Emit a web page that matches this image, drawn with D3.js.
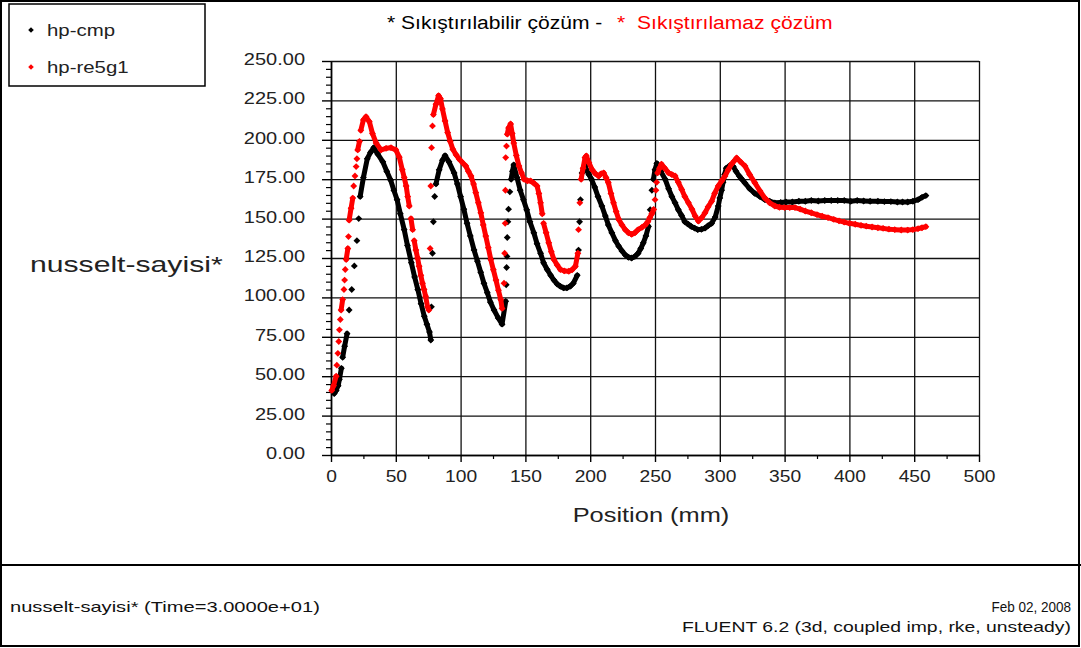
<!DOCTYPE html>
<html>
<head>
<meta charset="utf-8">
<style>
  body { margin: 0; background: #fff; }
  svg { display: block; }
  text { font-family: "Liberation Sans", Arial, sans-serif; }
</style>
</head>
<body>
<div id="chart"></div>
<script src="https://cdn.jsdelivr.net/npm/d3@7"></script>
<script>
// values
const xTicks = [0, 50, 100, 150, 200, 250, 300, 350, 400, 450, 500];
const yTicks = [0, 25, 50, 75, 100, 125, 150, 175, 200, 225, 250];

const seriesNames = ["hp-cmp", "hp-re5g1"];

const cmpX = [2.5, 4, 5.5, 6.5, 8, 9, 10.5, 12.4, 14, 16, 18, 20, 21.4, 22.5, 25, 28, 30.5, 33, 36, 40, 43, 46, 48.5, 51, 53.5, 56.5, 59, 62, 64.5, 67, 69.5, 72, 74, 76, 77,
  77.5, 78.3, 79, 80, 81, 83.5, 86, 88, 91, 95, 97.5, 100, 102.5, 105, 107.5, 110.4, 113, 115.5, 118, 120.6, 123, 125.8, 129, 132,
  134.8, 135.2, 135.5, 135.8, 136, 136.5, 137, 138, 139, 140, 141, 143.5, 146, 148.5, 151, 153.5, 156.5, 159, 161.7, 164, 166.8, 169.5, 172, 174.5, 177, 179.5, 182, 184.5, 187, 190,
  191, 191.8, 192.5, 193.7, 196, 197, 199, 201, 203.5, 206, 209, 211.7, 214, 216.7, 219.5, 222, 224.5, 227, 229.5, 232, 234.5, 237, 239, 241, 243, 245, 246.3, 247.6, 248.8, 250, 251.4,
  254.5, 257.8, 260.5, 263, 265.5, 268, 270.5, 273, 275.5, 278, 280.5, 283, 285.8, 288.6, 291, 293.7, 296.5, 298.8, 300, 301.4, 302.5, 303.7, 305, 307.5, 310.4,
  312.5, 315, 317, 319.4, 323, 327, 331, 334.8, 338.5, 342.5, 347, 351, 356, 361, 366, 370.6, 376, 381, 386, 391, 396, 401, 406, 411, 416, 422, 427, 432, 437, 441, 445, 449, 453, 456, 459];
const cmpY = [39, 41, 44, 48, 55, 62, 69, 77, 92, 105, 120, 136, 150, 164, 176, 188, 192, 195, 191, 186, 180, 174.5, 168, 162, 153, 143, 133, 122, 113, 105, 96, 88, 83, 78, 73,
  94, 128, 148, 164, 172, 181, 187, 190, 186, 179, 172, 164, 156, 147, 139, 130, 123, 116, 109, 103, 97, 92, 87, 83,
  97.5, 108, 119, 126, 138, 148, 156, 167, 175, 180, 184, 176, 168, 162, 155.6, 148, 141, 134, 128, 122, 117.7, 114, 111, 108.5, 107, 106, 106, 107, 109, 114,
  130, 148, 162, 179, 184, 181, 178, 175, 170, 164, 158, 151.6, 146, 141, 136, 132.5, 129.5, 127, 125.5, 125, 126, 128, 131, 134.6, 139, 145, 155.6, 168, 175, 181, 185,
  180, 175, 169, 164, 160, 155.6, 152, 148, 146.5, 145, 144, 143, 143.2, 144, 145.5, 147, 151, 158, 163, 168, 173, 178, 182, 183.5, 183,
  180, 177, 175, 172.6, 169, 166, 164, 162, 161, 160, 160.2, 160.5, 160.5, 161, 161, 161.5, 161.2, 161.5, 161.5, 161.5, 161.5, 161, 161.5, 161.2, 161, 161, 160.8, 160.8, 160.5, 160.5, 160.5, 161, 162, 163.5, 164.6];

const reX = [0.6, 2, 4, 4.5, 5.3, 6, 6.5, 7.2, 7.8, 9, 10, 10.5, 11, 11.7, 13, 13.5, 14, 15.5, 16.8, 17.5, 18.5, 19.4, 20, 20.6, 22, 23, 25, 27, 29.6, 32, 34.8, 38.6, 42.5, 46.3, 50, 52.7, 55, 56.5, 58, 59.2, 60.4, 61.7, 63, 64.2, 65.5, 66.8, 68, 69.3, 70.6, 71.8, 73, 74.5, 75.5,
  76.5, 77, 77.6, 78.3, 79, 81, 83, 84.5, 86, 88, 90, 92, 94, 96.5, 99, 101.5, 104, 106, 108, 110, 111.7, 113.7, 115.6, 117.5, 119.4, 121.4, 123.3, 125.3, 127.3, 129.2, 131, 132,
  133.5, 134, 134.4, 134.6, 134.8, 135.4, 136, 137, 138.6, 139.8, 141, 143, 145, 147, 149, 151.5, 154, 156.5, 159, 160.4, 161.7, 163, 164, 166, 168, 170, 172, 174.5, 177, 180, 183.5, 186, 188.6,
  190.5, 191, 192, 193, 194.5, 196, 197, 199, 201.5, 204, 206.5, 208.5, 210.4, 212.2, 214, 216, 218, 220, 222, 224.5, 227, 229.5, 232, 234.5, 237, 240, 242.5, 244.5, 246, 247.5, 249, 250, 250.7, 251.3, 252, 253.5, 255,
  257.5, 260.5, 263, 265.5, 268, 270.6, 273, 275.8, 278.5, 281, 283.5, 286, 288.6, 291, 293.7, 296, 298.8, 301.5, 304, 306.5, 309, 311, 313, 316, 319.4, 323, 327, 331, 334.8, 338.5, 342.5, 346, 350, 354, 358, 362, 366, 370.6, 375, 379, 383.5, 388, 392, 396, 400, 404.5, 409, 413, 417.5, 422, 426, 430.5, 435, 440, 445, 449, 453, 456, 459];
const reY = [41, 44, 50, 57, 64.5, 72, 79.4, 86, 92, 98.6, 105, 111, 117.7, 124, 131, 138.6, 149, 156.6, 163, 170.7, 177, 183, 188, 193.6, 199, 206, 212.6, 214.6, 211.5, 204, 198, 193.6, 194.6, 195, 193.6, 189, 181, 176, 170.7, 164, 158, 150, 143, 136, 130, 125, 119.8, 114, 109, 105, 100.7, 94, 92,
  131, 170.7, 195, 208.8, 216, 222.6, 228, 226, 219.6, 212, 204.6, 199, 194, 190.5, 187.7, 185.5, 183.4, 180, 177, 172, 166.5, 160, 153.7, 146, 139, 131.5, 124, 117.5, 111, 104.5, 98.6, 93,
  109, 128, 147, 168, 188.7, 196, 203.6, 207.5, 210, 204, 198, 190, 183.4, 179, 175, 174, 173.9, 172.5, 170.7, 166, 160, 153, 147, 141, 134.7, 129, 124, 120.5, 117.7, 116.8, 116.6, 117.5, 119.8,
  128, 143, 160, 175, 182, 188.7, 189.8, 185.5, 181, 178.5, 177, 178.5, 179, 176, 172.8, 166, 160, 154.5, 149.5, 146, 143, 141, 140, 141, 143, 144.5, 146, 148, 150.6, 153, 155.8, 162, 168, 173, 179, 182, 184.5,
  182, 179, 178, 177, 173, 168.5, 164, 160, 156, 151.6, 148.4, 150.5, 153.7, 157.5, 161, 166, 170.7, 174, 177, 181, 184.5, 186.5, 188.5, 186, 183.4, 178, 172.8, 167.5, 163, 160, 158, 157.2, 157, 157, 157, 156, 154.8, 153.7, 152.5, 151.5, 150.6, 149.5, 148.6, 147.8, 147, 146.4, 145.7, 145.2, 144.7, 144.2, 143.8, 143.3, 143, 142.8, 142.7, 143, 143.6, 144.2, 144.9];

const W = 1081, H = 648;
const svg = d3.select('#chart').append('svg').attr('width', W).attr('height', H);

// stretch text horizontally (the original plot is wider than its fonts)
const stretch = (sel, k) => sel.each(function () {
  const w = this.getComputedTextLength();
  this.setAttribute('textLength', w * k);
  this.setAttribute('lengthAdjust', 'spacingAndGlyphs');
});

// frame + footer panel
svg.append('rect').attr('x', 1).attr('y', 1).attr('width', W - 3).attr('height', H - 3)
  .attr('fill', '#fff').attr('stroke', '#000').attr('stroke-width', 2);
svg.append('line').attr('x1', 0).attr('x2', W).attr('y1', 565).attr('y2', 565)
  .attr('stroke', '#000').attr('stroke-width', 2);

const x = d3.scaleLinear().domain([0, 500]).range([331, 979]);
const y = d3.scaleLinear().domain([0, 250]).range([455, 61]);

// grid
svg.append('g').attr('transform', 'translate(0,455)')
  .call(d3.axisBottom(x).tickValues(xTicks).tickSize(-(455 - 61)).tickFormat(''))
  .call(g => g.select('.domain').remove())
  .selectAll('line').attr('stroke', '#111').attr('stroke-width', 1.3);
svg.append('g').attr('transform', 'translate(331,0)')
  .call(d3.axisLeft(y).tickValues(yTicks).tickSize(-(979 - 331)).tickFormat(''))
  .call(g => g.select('.domain').remove())
  .selectAll('line').attr('stroke', '#111').attr('stroke-width', 1.3);

// minor ticks
const yMinor = d3.range(0, 251, 5).filter(v => v % 25 !== 0);
svg.append('g').attr('transform', 'translate(331,0)')
  .call(d3.axisLeft(y).tickValues(yMinor).tickSize(5).tickFormat(''))
  .call(g => g.select('.domain').remove())
  .selectAll('line').attr('stroke', '#000').attr('stroke-width', 1.2);
const xMinor = d3.range(25, 500, 50);
svg.append('g').attr('transform', 'translate(0,455)')
  .call(d3.axisBottom(x).tickValues(xMinor).tickSize(4).tickFormat(''))
  .call(g => g.select('.domain').remove())
  .selectAll('line').attr('stroke', '#000').attr('stroke-width', 1.2);

// major axes
const yAxis = svg.append('g').attr('transform', 'translate(331,0)')
  .call(d3.axisLeft(y).tickValues(yTicks).tickSizeInner(9).tickSizeOuter(0).tickPadding(17).tickFormat(d3.format('.2f')));
const xAxis = svg.append('g').attr('transform', 'translate(0,455)')
  .call(d3.axisBottom(x).tickValues(xTicks).tickSizeInner(7).tickSizeOuter(0).tickPadding(9));
[yAxis, xAxis].forEach(a => {
  a.select('.domain').attr('stroke', '#000').attr('stroke-width', 1.6);
  a.selectAll('line').attr('stroke', '#000').attr('stroke-width', 1.4);
  a.selectAll('text').attr('font-family', '"Liberation Sans", Arial, sans-serif')
    .attr('font-size', 16).attr('fill', '#222');
});
yAxis.selectAll('text').attr('dy', '0.22em');
stretch(yAxis.selectAll('text'), 1.25);
stretch(xAxis.selectAll('text'), 1.2);

// axis titles
stretch(svg.append('text').attr('x', 651).attr('y', 522).attr('text-anchor', 'middle')
  .attr('font-size', 20).attr('fill', '#222').text('Position (mm)'), 1.27);
stretch(svg.append('text').attr('x', 30).attr('y', 272)
  .attr('font-size', 22).attr('fill', '#222').text('nusselt-sayisi*'), 1.37);

// title
stretch(svg.append('text').attr('x', 387).attr('y', 29).attr('font-size', 18).attr('fill', '#000')
  .text('* Sıkıştırılabilir çözüm -'), 1.17);
stretch(svg.append('text').attr('x', 617).attr('y', 29).attr('font-size', 18).attr('fill', '#f00')
  .text('*'), 1.17);
stretch(svg.append('text').attr('x', 637).attr('y', 29).attr('font-size', 18).attr('fill', '#f00')
  .text('Sıkıştırılamaz çözüm'), 1.17);

// data
const series = [
  { name: seriesNames[0], color: '#000', pts: cmpX.map((v, i) => [v, cmpY[i]]) },
  { name: seriesNames[1], color: '#f00', pts: reX.map((v, i) => [v, reY[i]]) }
];
const marker = d3.symbol().type(d3.symbolDiamond2).size(30);

series.forEach(s => {
  const g = svg.append('g');
  // dense marker runs look like a thick band; steep jumps stay dotted
  const segs = d3.pairs(s.pts).filter(([a, b]) => {
    const dx = Math.abs(x(b[0]) - x(a[0])), dy = Math.abs(y(b[1]) - y(a[1]));
    return dy < 7 * dx;
  });
  g.selectAll('line').data(segs).join('line')
    .attr('x1', d => x(d[0][0])).attr('y1', d => y(d[0][1]))
    .attr('x2', d => x(d[1][0])).attr('y2', d => y(d[1][1]))
    .attr('stroke', s.color).attr('stroke-width', 5).attr('stroke-linecap', 'round');
  g.selectAll('path').data(s.pts).join('path')
    .attr('d', marker)
    .attr('transform', d => `translate(${x(d[0])},${y(d[1])})`)
    .attr('fill', s.color);
});

// legend
svg.append('rect').attr('x', 9).attr('y', 4).attr('width', 196).attr('height', 82)
  .attr('fill', '#fff').attr('stroke', '#000').attr('stroke-width', 1.5);
const leg = svg.append('g').selectAll('g').data(series).join('g')
  .attr('transform', (d, i) => `translate(0,${i * 37})`);
leg.append('path').attr('d', d3.symbol().type(d3.symbolDiamond2).size(20))
  .attr('transform', 'translate(31,30)').attr('fill', d => d.color);
stretch(leg.append('text').attr('x', 47).attr('y', 36).attr('font-size', 17).attr('fill', '#222')
  .text(d => d.name), 1.2);

// footer
stretch(svg.append('text').attr('x', 10).attr('y', 612).attr('font-size', 15).attr('fill', '#111')
  .text('nusselt-sayisi* (Time=3.0000e+01)'), 1.34);
stretch(svg.append('text').attr('x', 1071).attr('y', 612).attr('text-anchor', 'end').attr('font-size', 15).attr('fill', '#111')
  .text('Feb 02, 2008'), 0.9);
stretch(svg.append('text').attr('x', 1071).attr('y', 632).attr('text-anchor', 'end').attr('font-size', 15).attr('fill', '#111')
  .text('FLUENT 6.2 (3d, coupled imp, rke, unsteady)'), 1.29);
</script>
</body>
</html>
